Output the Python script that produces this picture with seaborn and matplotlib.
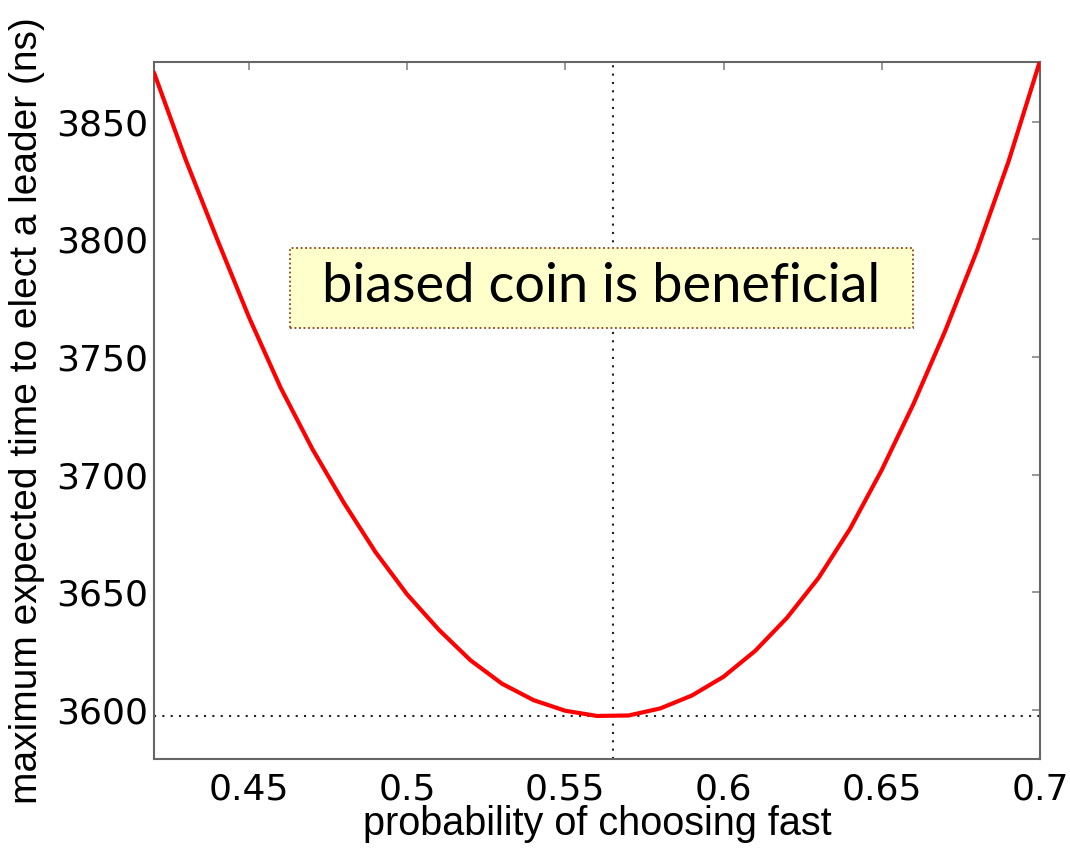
import matplotlib
matplotlib.use("Agg")
import matplotlib.pyplot as plt
from matplotlib.patches import Rectangle
import seaborn as sns
import pandas as pd

# data
prob_fast = [0.42, 0.43, 0.44, 0.45, 0.46, 0.47, 0.48, 0.49, 0.50, 0.51,
             0.52, 0.53, 0.54, 0.55, 0.56, 0.57, 0.58, 0.59, 0.60, 0.61,
             0.62, 0.63, 0.64, 0.65, 0.66, 0.67, 0.68, 0.69, 0.70]
max_time = [3871, 3834, 3800, 3767, 3737, 3711, 3688, 3667, 3649, 3634,
            3621, 3611, 3604, 3599.5, 3597.3, 3597.5, 3600.5, 3606, 3614, 3625,
            3639, 3656, 3677, 3702, 3730, 3761, 3795, 3833, 3876]
opt_prob = 0.565
opt_time = 3597.2
x_ticks = [0.45, 0.5, 0.55, 0.6, 0.65, 0.7]
x_tick_labels = ["0.45", "0.5", "0.55", "0.6", "0.65", "0.7"]
y_ticks = [3600, 3650, 3700, 3750, 3800, 3850]
annotation = "biased coin is beneficial"
# annotation box extent (data coords)
box_x = [0.463, 0.6598]
box_y = [3762.4, 3796.4]

sns.set_theme(style="white")
plt.rcParams['font.family'] = ['DejaVu Sans']
plt.rcParams['text.color'] = 'black'
plt.rcParams['axes.labelcolor'] = 'black'
plt.rcParams['xtick.color'] = 'black'
plt.rcParams['ytick.color'] = 'black'

fig = plt.figure(figsize=(10.7, 8.48), dpi=100)
ax = fig.add_axes([0.1439, 0.105, 0.9720 - 0.1439, 0.9269 - 0.105])

df = pd.DataFrame({"p": prob_fast, "t": max_time})
sns.lineplot(data=df, x="p", y="t", ax=ax, color="#ff0000", linewidth=3, zorder=3)

ax.axvline(opt_prob, color="#222222", linestyle=(0, (1, 3)), linewidth=1.5, zorder=2)
ax.axhline(opt_time, color="#222222", linestyle=(0, (1, 3)), linewidth=1.5, zorder=2)

ax.set_xlim(0.42, 0.70)
ax.set_ylim(3579, 3875.5)
ax.set_xticks(x_ticks)
ax.set_xticklabels(x_tick_labels)
ax.set_yticks(y_ticks)
ax.tick_params(direction="in", top=True, right=True, length=6, width=1.2,
               color="#888888", labelcolor="black", labelsize=26)
ax.tick_params(axis="x", pad=10)
ax.tick_params(axis="y", pad=4)
for lab in ax.get_xticklabels() + ax.get_yticklabels():
    lab.set_family("DejaVu Sans")
for s in ax.spines.values():
    s.set_color("#666666")
    s.set_linewidth(1.5)

ax.set_xlabel("probability of choosing fast", fontsize=28.5, color="black",
              family=["Liberation Sans", "DejaVu Sans"], labelpad=-1)
ax.set_ylabel("maximum expected time to elect a leader (ns)", fontsize=28, color="black",
              family=["Liberation Sans Narrow", "Liberation Sans", "DejaVu Sans"], labelpad=8)

ax.add_patch(Rectangle((box_x[0], box_y[0]), box_x[1] - box_x[0], box_y[1] - box_y[0],
                       facecolor="#FFFFCC", edgecolor="#8B4513",
                       linestyle=(0, (1, 1.5)), linewidth=1.3, zorder=4))
ax.text((box_x[0] + box_x[1]) / 2, (box_y[0] + box_y[1]) / 2 + 0.5, annotation,
        fontsize=39, family=["Lato", "DejaVu Sans"], color="black",
        ha="center", va="center", zorder=5)

fig.savefig("out.png", dpi=100)
